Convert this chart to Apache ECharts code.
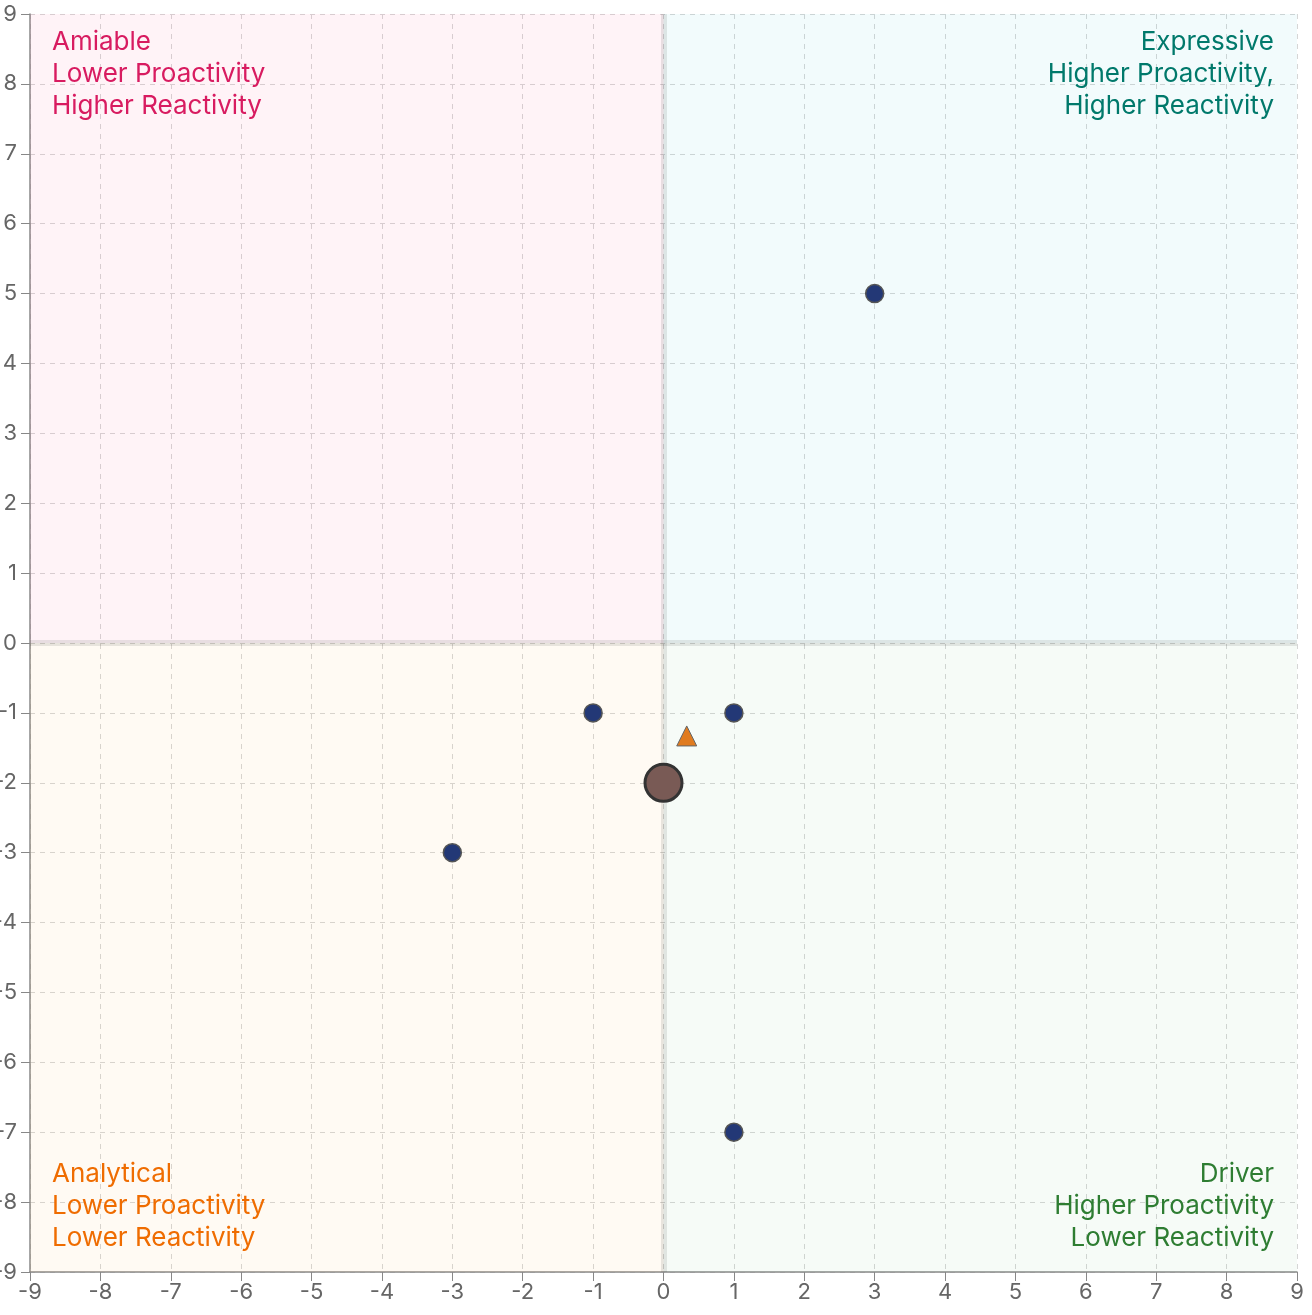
<!DOCTYPE html>
<html>
<head>
<meta charset="utf-8">
<script src="https://cdn.jsdelivr.net/npm/echarts@6/dist/echarts.min.js"></script>
<style>
  html, body { margin: 0; padding: 0; background: #fff; }
  #chart { width: 1312px; height: 1315px; }
</style>
</head>
<body>
<div id="chart"></div>
<script>
// 象限散点：横轴 Proactivity，纵轴 Reactivity，四象限底色 + 文字说明
const AXIS_MIN = -9;
const AXIS_MAX = 9;

// 个人得分点
const peopleX = [3, -1, 1, -3, 1];
const peopleY = [5, -1, -1, -3, -7];
// 团队平均（大圆）
const avgPoint = [0, -2];
// 目标（三角）
const targetPoint = [0.33, -1.33];

// 象限：名称、说明、底色（半透明，好让网格线透出来）、字色
const quadrants = [
  { text: 'Amiable\nLower Proactivity\nHigher Reactivity', from: [AXIS_MIN, 0], to: [0, AXIS_MAX], bg: 'rgba(255,55,122,0.06)', ink: '#d81b60', pos: 'insideTopLeft', align: 'left' },
  { text: 'Expressive\nHigher Proactivity,\nHigher Reactivity', from: [0, 0], to: [AXIS_MAX, AXIS_MAX], bg: 'rgba(38,188,205,0.06)', ink: '#00796b', pos: 'insideTopRight', align: 'right' },
  { text: 'Analytical\nLower Proactivity\nLower Reactivity', from: [AXIS_MIN, AXIS_MIN], to: [0, 0], bg: 'rgba(255,172,55,0.06)', ink: '#ef6c00', pos: 'insideBottomLeft', align: 'left' },
  { text: 'Driver\nHigher Proactivity\nLower Reactivity', from: [0, AXIS_MIN], to: [AXIS_MAX, 0], bg: 'rgba(105,188,122,0.06)', ink: '#2e7d32', pos: 'insideBottomRight', align: 'right' },
];

const FONT = 'Inter, "Noto Sans", sans-serif';

const chart = echarts.init(document.getElementById('chart'), null, { renderer: 'canvas' });

function axis(margin) {
  return {
    type: 'value', min: AXIS_MIN, max: AXIS_MAX, interval: 1,
    axisLine: { show: true, onZero: false, lineStyle: { color: '#888', width: 1.5 } },
    axisTick: { show: true, length: 9, lineStyle: { color: '#888' } },
    axisLabel: { color: '#666', fontSize: 22, fontFamily: FONT, margin },
    splitLine: { show: true, lineStyle: { color: '#d6d6d6', type: [5, 5], width: 1 } },
  };
}

const areaData = quadrants.map((q) => [
  {
    coord: q.from,
    itemStyle: { color: q.bg },
    label: {
      show: true, position: q.pos, formatter: q.text, color: q.ink, align: q.align,
      fontSize: 26, lineHeight: 32, fontFamily: FONT, distance: 0,
      padding: q.pos.indexOf('Top') > 0 ? [12, 23, 0, 22] : [0, 23, 18, 22],
    },
  },
  { coord: q.to },
]);

chart.setOption({
  animation: false,
  grid: { left: 30, right: 15, top: 14, bottom: 43, containLabel: false, outerBoundsMode: 'none' },
  xAxis: axis(9),
  yAxis: axis(13),
  series: [
    {
      name: 'people', type: 'scatter', z: 5,
      symbol: 'circle', symbolSize: 18,
      itemStyle: { color: '#233876', borderColor: '#555', borderWidth: 1.5, opacity: 1 },
      data: peopleX.map((x, i) => [x, peopleY[i]]),
      markArea: { silent: true, data: areaData },
    },
    {
      // 零轴的灰色粗线
      name: 'zero', type: 'scatter', z: 3, data: [],
      markLine: {
        silent: true, symbol: 'none', label: { show: false },
        lineStyle: { color: 'rgba(0,0,0,0.09)', width: 6, type: 'solid' },
        data: [{ xAxis: 0 }, { yAxis: 0 }],
      },
    },
    {
      name: 'average', type: 'scatter', z: 6,
      symbol: 'circle', symbolSize: 37,
      itemStyle: { color: '#795a55', borderColor: '#333', borderWidth: 3, opacity: 1 },
      data: [avgPoint],
    },
    {
      name: 'target', type: 'scatter', z: 6,
      symbol: 'triangle', symbolSize: 20,
      itemStyle: { color: '#e07b1f', borderColor: '#666', borderWidth: 1, opacity: 1 },
      data: [targetPoint],
    },
  ],
});

window.addEventListener('resize', () => chart.resize());
</script>
</body>
</html>
